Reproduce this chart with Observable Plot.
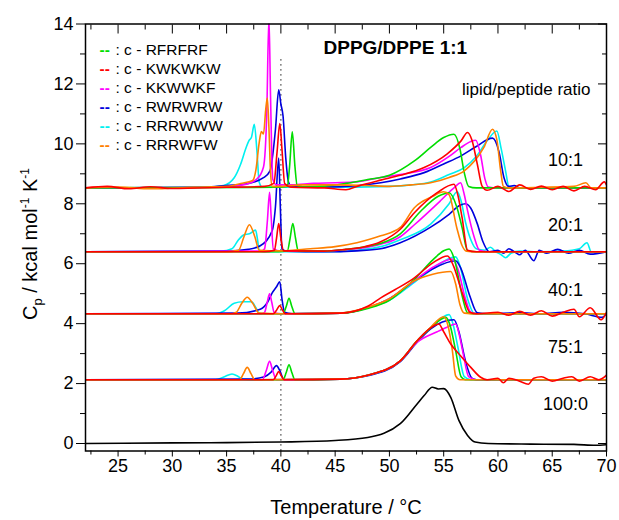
<!DOCTYPE html>
<html><head><meta charset="utf-8">
<script src="https://cdn.jsdelivr.net/npm/d3@7"></script>
<script src="https://cdn.jsdelivr.net/npm/@observablehq/plot@0.6"></script>
<style>body{margin:0;background:#fff}</style>
</head><body><div id="chart"></div>
<script>
// ---- categories ----
const peptides = ["RFRFRF","KWKWKW","KKWWKF","RWRWRW","RRRWWW","RRRWFW"];
const peptideColors = ["#00dd00","#ff0000","#ff00ff","#0000dd","#00f0f0","#ff8000"];
const drawOrder = ["RRRWWW","RWRWRW","KKWWKF","RFRFRF","RRRWFW","KWKWKW"];
const ratios = ["10:1","20:1","40:1","75:1","100:0"];
const baselines = [8.53, 6.40, 4.33, 2.13, 0];
const xTicks = [25,30,35,40,45,50,55,60,65,70];
const xMinor = [22.5,27.5,32.5,37.5,42.5,47.5,52.5,57.5,62.5,67.5];
const yTicks = [0,2,4,6,8,10,12,14];
const yMinor = [1,3,5,7,9,11,13];
const markerT = 40, markerTop = 12.9;

// ---- excess heat capacity above each baseline: [T, dCp] ----
// 10:1
const rfrfrf10 = [[22,0],[39.5,0.02],[40.6,0.05],[40.8,0.7],[41.05,1.87],[41.3,0.7],[41.5,0.08],[42,0.04],[44,0.06],[46,0.15],[48,0.28],[50,0.42],[52.3,0.9],[53.8,1.35],[55,1.68],[55.95,1.79],[56.5,1.3],[56.9,0.5],[57.3,0.05],[58,0],[70,0]];
const kwkwkw10 = [[22,0],[24,0.05],[26,-0.03],[28,0.04],[30,-0.02],[35,0.02],[38.5,0.05],[39.35,0.15],[39.65,1.2],[39.9,2.15],[40.1,1.3],[40.35,0.15],[41,0.02],[44,0],[46,-0.06],[47,0.05],[49.2,0.26],[51,0.42],[53.2,0.68],[55.3,1.13],[56.6,1.57],[57.2,1.85],[57.6,1.6],[58.1,0.79],[58.55,0.05],[59,-0.08],[60,0.05],[61,-0.12],[62,0.1],[63,-0.05],[64,0.06],[65,-0.06],[66,0.05],[67,-0.1],[68,0.05],[69,-0.06],[69.8,0.2],[70,0.1]];
const kkwwkf10 = [[22,0],[34,0.02],[36.5,0.1],[37.8,0.3],[38.4,0.7],[38.7,2.5],[38.9,5.7],[39.05,3],[39.25,0.3],[39.6,0.1],[41,0.1],[43,0.15],[45,0.17],[47,0.2],[49.2,0.35],[51,0.45],[53.8,0.68],[55.5,1.05],[56.6,1.35],[57.5,1.55],[57.95,1.59],[58.4,1.1],[58.8,0.3],[59.1,0.03],[60,0],[70,0]];
const rwrwrw10 = [[22,0],[33,0.02],[35,0.08],[37,0.15],[38.4,0.34],[39,0.57],[39.5,1.95],[39.8,3.27],[40.0,2.8],[40.2,2.4],[40.45,1.0],[40.7,0.2],[41,0.04],[44,0.03],[47,0.07],[49.2,0.17],[51,0.3],[53.2,0.51],[55,0.8],[56.6,1.07],[58,1.38],[59.5,1.66],[60.1,1.2],[60.55,0.35],[61,0.05],[61.5,0.08],[62,0],[70,0]];
const rrrwww10 = [[22,0],[33,0.02],[34.7,0.08],[35.7,0.34],[36.3,0.8],[36.8,1.35],[37.05,1.57],[37.3,1.7],[37.55,2.12],[37.8,1.2],[38.0,0.2],[38.3,0.02],[44,0.02],[50,0.05],[52,0.1],[53.8,0.2],[55.5,0.45],[56.9,0.68],[58,1.05],[59.0,1.57],[59.9,1.9],[60.3,1.3],[60.7,0.57],[61,0.05],[62,0],[70,0]];
const rrrwfw10 = [[22,0],[25,0.03],[28,-0.03],[32,0.02],[35,0.05],[36.3,0.15],[37.4,0.25],[37.7,0.6],[38.0,1.5],[38.2,1.88],[38.4,1.8],[38.6,2.6],[38.75,3.0],[38.9,2.0],[39.05,0.5],[39.2,0.05],[40,0.05],[42,0.1],[45,0.1],[48,0.08],[50,0.05],[52,0.1],[53.8,0.17],[55.5,0.35],[56.9,0.57],[58.7,1.35],[59.5,1.96],[59.9,1.6],[60.25,0.57],[60.5,0.05],[61,0],[64,0.02],[67,0.05],[68.1,0.17],[68.6,0],[70,0]];
// 20:1
const rfrfrf20 = [[22,0],[39,0],[40.6,0.03],[40.85,0.45],[41.1,0.94],[41.35,0.45],[41.6,0.03],[44,0.02],[46,0.08],[47.5,0.15],[49.2,0.28],[51,0.6],[52.9,1.36],[54.5,1.85],[55.5,1.97],[56.2,1.5],[56.7,0.8],[57.2,0.03],[58,0],[70,0]];
const kwkwkw20 = [[22,0],[38.5,0],[39.4,0.05],[39.6,0.45],[39.8,0.94],[40.0,0.45],[40.25,0.03],[44,0.02],[46,0.08],[47.5,0.15],[49.2,0.33],[51,0.75],[52.3,1.3],[54.4,1.97],[55.95,2.25],[56.3,1.9],[56.7,1.13],[57.2,0.05],[58,0],[70,0]];
const kkwwkf20 = [[22,0],[38.2,0.02],[38.5,0.1],[38.75,1.0],[38.96,1.98],[39.1,1.2],[39.3,0.1],[40,0.02],[44,0.02],[46,0.07],[48,0.15],[49.2,0.25],[51,0.5],[52.3,0.9],[54.7,1.7],[56.0,2.15],[56.55,2.3],[56.9,1.9],[57.2,1.37],[57.8,0.5],[58.3,0.05],[59,0],[70,0]];
const rwrwrw20 = [[22,0],[35,0.02],[37,0.08],[38.1,0.2],[39.2,0.7],[39.5,1.5],[39.8,3.13],[39.95,1.5],[40.1,0.1],[40.5,0.02],[44,0],[47,0.03],[49.2,0.1],[51,0.3],[53.8,0.82],[55.5,1.25],[56.5,1.55],[57.0,1.6],[57.5,1.45],[58.1,0.93],[58.6,0.35],[59.2,0],[60,0.05],[60.5,-0.05],[61,0.1],[61.5,0],[62,-0.1],[62.5,0.05],[63.3,-0.3],[63.8,0.05],[64.5,-0.05],[65.5,0.08],[66.5,-0.05],[67.5,0.05],[68.5,-0.08],[70,0]];
const rrrwww20 = [[22,0],[34.5,0.02],[35.5,0.1],[36.1,0.4],[36.6,0.57],[37.1,0.6],[37.67,0.72],[37.85,0.4],[38.0,0.05],[38.5,0],[44,0],[47,0.05],[49.2,0.17],[51,0.4],[53.8,0.92],[55.5,1.6],[56.25,2.0],[56.6,1.7],[57.0,1.0],[57.5,0.4],[58,0.1],[58.8,0.05],[59.3,0.15],[59.8,0],[60.3,-0.1],[60.7,-0.2],[61.2,-0.05],[62,0.02],[64,0],[66,0.02],[67.5,0.1],[68.2,0.3],[68.6,0],[70,0]];
const rrrwfw20 = [[22,0],[35,0],[36.1,0.05],[36.6,0.5],[37.1,0.9],[37.6,0.5],[38.0,0.05],[40,0.03],[42.7,0.1],[45,0.17],[47,0.3],[49.2,0.53],[51,0.81],[52.3,1.47],[54,1.85],[55.0,2.0],[55.5,1.9],[56.2,0.81],[56.7,0.2],[57.1,0.02],[58,0],[70,0]];
// 40:1
const rfrfrf40 = [[22,0],[40.2,0],[40.5,0.25],[40.75,0.52],[41.0,0.25],[41.3,0],[45.5,0.02],[48,0.18],[50,0.45],[52.3,1.15],[54,1.8],[55.0,2.1],[55.5,2.16],[56.0,1.8],[56.7,0.6],[57.2,0.03],[58,0],[70,0]];
const kwkwkw40 = [[22,0],[39.3,0],[39.6,0.12],[39.9,0.27],[40.15,0.12],[40.4,0],[45.5,0.02],[48,0.25],[49.2,0.53],[50.5,0.8],[52.3,1.2],[54,1.7],[55.35,1.93],[55.9,1.6],[56.7,0.7],[57.4,0.05],[58,0],[60,0.05],[61,-0.05],[62,0.08],[63,-0.05],[64,0.1],[65,-0.08],[66,0.05],[67,0.15],[67.5,-0.1],[68.5,0.2],[69.5,-0.2],[70,0.05]];
const kkwwkf40 = [[22,0],[38.2,0],[38.5,0.05],[38.75,0.4],[38.96,0.67],[39.15,0.4],[39.4,0.03],[40,0],[45.5,0.02],[48,0.2],[50,0.5],[52.3,1.1],[54,1.55],[55.8,1.83],[56.3,1.5],[57.0,0.5],[57.5,0.05],[58,0],[70,0]];
const rwrwrw40 = [[22,0],[36,0.02],[38.1,0.15],[38.8,0.4],[39.2,0.7],[39.6,0.9],[39.9,1.07],[40.1,0.5],[40.35,0.05],[41,0],[45.5,0.02],[48,0.2],[50,0.5],[52.3,1.1],[54,1.5],[56.1,1.77],[56.6,1.5],[57.4,0.6],[58.1,0.03],[59,0],[62,0.03],[64,0],[66,0.05],[68,0],[69.6,-0.12],[70,0]];
const rrrwww40 = [[22,0],[34,0],[34.8,0.1],[35.7,0.35],[36.5,0.4],[37.3,0.4],[37.7,0.2],[38.0,0.02],[39,0],[45.5,0.02],[48,0.2],[50,0.45],[52.3,1.05],[54,1.5],[56.1,1.9],[56.5,1.6],[57.2,0.5],[57.8,0.02],[59,0],[70,0]];
const rrrwfw40 = [[22,0],[35.5,0],[35.9,0.05],[36.4,0.35],[36.9,0.55],[37.4,0.35],[38,0.02],[40,0],[45.5,0.02],[48,0.22],[50,0.5],[52.3,1.1],[54,1.32],[55.65,1.41],[56.1,1.0],[56.5,0.3],[56.9,0.02],[58,0],[70,0]];
// 75:1
const rfrfrf75 = [[22,0],[40.2,0],[40.5,0.25],[40.75,0.5],[41.0,0.25],[41.3,0],[45.5,0.02],[48,0.15],[51,0.63],[52.55,1.3],[53.8,1.73],[55.2,2.08],[55.6,1.8],[56.1,0.97],[56.6,0.1],[57,0],[70,0]];
const kwkwkw75 = [[22,0],[39.3,0],[39.55,0.12],[39.8,0.27],[40.05,0.12],[40.3,0],[45.5,0.02],[48,0.15],[51,0.63],[52.55,1.3],[53.8,1.73],[54.55,1.86],[55.0,1.6],[55.65,1.19],[56.55,0.8],[57.5,0.41],[58.4,0.08],[59,0],[60,0.05],[60.5,-0.1],[61,0.05],[62,-0.05],[62.8,-0.15],[63.3,0.05],[64,0.1],[65,-0.05],[66,0.05],[66.8,0.1],[67.5,-0.05],[68.5,0.1],[69.3,0],[70,0.15]];
const kkwwkf75 = [[22,0],[38.3,0],[38.65,0.3],[38.96,0.61],[39.25,0.3],[39.6,0],[45.5,0.02],[48,0.15],[51,0.63],[52.55,1.25],[54.4,1.6],[55.3,1.75],[56.1,1.86],[56.5,1.4],[56.8,0.86],[57.3,0.1],[58,0],[70,0]];
const rwrwrw75 = [[22,0],[37,0.02],[38.5,0.1],[39.1,0.25],[39.6,0.47],[39.9,0.3],[40.3,0],[45.5,0.02],[48,0.13],[51,0.6],[52.55,1.25],[53.8,1.7],[55.95,2.0],[56.4,1.6],[57.0,0.63],[57.6,0.05],[58,0],[70,0]];
const rrrwww75 = [[22,0],[34,0],[34.8,0.1],[35.5,0.19],[36.1,0.1],[36.5,0.02],[38,0],[45.5,0.02],[48,0.15],[51,0.63],[52.55,1.3],[53.8,1.73],[55.5,2.17],[55.9,1.8],[56.3,1.1],[56.9,0.1],[57.5,0],[70,0]];
const rrrwfw75 = [[22,0],[36.2,0],[36.55,0.2],[36.9,0.41],[37.25,0.2],[37.6,0],[45.5,0.02],[48,0.15],[51,0.63],[52.55,1.3],[53.8,1.75],[55.0,2.1],[55.4,1.8],[55.8,0.97],[56.1,0.13],[56.5,0],[70,0]];
// 100:0 (pure lipid)
const lipid100 = [[22,0],[30,0.02],[35,0.03],[40,0.05],[45,0.1],[48,0.2],[51,0.66],[52.55,1.32],[53.2,1.6],[53.95,1.88],[54.5,1.82],[55.0,1.83],[55.65,1.54],[56.4,0.77],[57.2,0.27],[57.9,0.05],[59.1,0],[63,-0.02],[67,-0.03],[69,-0.06],[70,-0.04]];

const curves = {
  RFRFRF: [rfrfrf10, rfrfrf20, rfrfrf40, rfrfrf75],
  KWKWKW: [kwkwkw10, kwkwkw20, kwkwkw40, kwkwkw75],
  KKWWKF: [kkwwkf10, kkwwkf20, kkwwkf40, kkwwkf75],
  RWRWRW: [rwrwrw10, rwrwrw20, rwrwrw40, rwrwrw75],
  RRRWWW: [rrrwww10, rrrwww20, rrrwww40, rrrwww75],
  RRRWFW: [rrrwfw10, rrrwfw20, rrrwfw40, rrrwfw75]
};

function rowsFor(p) {
  const rows = [];
  curves[p].forEach((pts, i) => pts.forEach(([T, e]) => rows.push({T, Cp: baselines[i] + e, ratio: ratios[i]})));
  return rows;
}
const lipidRows = lipid100.map(([T, e]) => ({T, Cp: baselines[4] + e, ratio: ratios[4]}));

const font = "'Liberation Sans', Arial, sans-serif";
const colorOf = p => peptideColors[peptides.indexOf(p)];
const ratioLabelDy = [136.5, 201.5, 266.5, 323.5, 380.5];

const marks = [
  Plot.ruleX([markerT], {y1: -0.25, y2: markerTop, stroke: "#333", strokeWidth: 1.3, strokeDasharray: "1.3,3.7"}),
  Plot.line(lipidRows, {x: "T", y: "Cp", z: "ratio", stroke: "#000", strokeWidth: 1.6, curve: "monotone-x", clip: true}),
  ...drawOrder.map(p => Plot.line(rowsFor(p), {x: "T", y: "Cp", z: "ratio", stroke: colorOf(p), strokeWidth: 1.6, curve: "monotone-x", clip: true})),
  Plot.axisY({ticks: yTicks, tickSize: 9, tickPadding: 3, fontSize: 18, label: null}),
  Plot.axisY({ticks: yMinor, tickSize: 5, text: null, label: null}),
  Plot.axisY({anchor: "right", ticks: yTicks, tickSize: -9, text: null, label: null}),
  Plot.axisY({anchor: "right", ticks: yMinor, tickSize: -5, text: null, label: null}),
  Plot.axisX({ticks: xTicks, tickSize: 6, tickPadding: 2, fontSize: 18, label: null}),
  Plot.axisX({ticks: xMinor, tickSize: 4, text: null, label: null}),
  Plot.axisX({anchor: "top", ticks: xTicks, tickSize: -9, text: null, label: null}),
  Plot.axisX({anchor: "top", ticks: xMinor, tickSize: -5, text: null, label: null}),
  Plot.frame({stroke: "#000", strokeWidth: 1.5}),
  // legend
  ...peptides.map((p, i) => Plot.text(["--"], {text: d => d, frameAnchor: "top-left", dx: 14, dy: 26.5 + i * 19, textAnchor: "start", lineAnchor: "middle", fontSize: 15.5, fontWeight: "bold", fill: peptideColors[i]})),
  ...peptides.map((p, i) => Plot.text([": c - " + p], {text: d => d, frameAnchor: "top-left", dx: 30, dy: 26.5 + i * 19, textAnchor: "start", lineAnchor: "middle", fontSize: 15.5, fill: "#000"})),
  Plot.text(["DPPG/DPPE 1:1"], {text: d => d, frameAnchor: "top-left", dx: 238, dy: 24, textAnchor: "start", lineAnchor: "middle", fontSize: 19, fontWeight: "bold", fill: "#000"}),
  Plot.text(["lipid/peptide ratio"], {text: d => d, frameAnchor: "top-right", dx: -16, dy: 65.5, textAnchor: "end", lineAnchor: "middle", fontSize: 17, fill: "#000"}),
  ...ratios.map((r, i) => Plot.text([r], {text: d => d, frameAnchor: "top-right", dx: -41, dy: ratioLabelDy[i], textAnchor: "middle", lineAnchor: "middle", fontSize: 18, fill: "#000"})),
  Plot.text(["Temperature / °C"], {text: d => d, frameAnchor: "bottom", dx: 0, dy: 57, textAnchor: "middle", lineAnchor: "middle", fontSize: 20, fill: "#000"})
];

const chart = Plot.plot({
  width: 619, height: 520,
  marginLeft: 85, marginRight: 13, marginTop: 23.5, marginBottom: 69.5,
  x: {domain: [22, 70]},
  y: {domain: [-0.25, 14]},
  style: {fontFamily: font, fontSize: "18px", color: "#000", background: "#fff"},
  marks
});
document.getElementById("chart").appendChild(chart);

// y-axis title with subscript/superscripts
const svg = d3.select(chart);
const t = svg.append("text")
  .attr("transform", "translate(37,244) rotate(-90)")
  .attr("text-anchor", "middle")
  .attr("font-family", font)
  .attr("font-size", 20)
  .attr("fill", "#000");
t.append("tspan").text("C");
t.append("tspan").attr("font-size", 13).attr("dy", 5).text("p");
t.append("tspan").attr("dy", -5).text(" / kcal mol");
t.append("tspan").attr("font-size", 12).attr("dy", -8).text("-1");
t.append("tspan").attr("dy", 8).text(" K");
t.append("tspan").attr("font-size", 12).attr("dy", -8).text("-1");
</script>
</body></html>
